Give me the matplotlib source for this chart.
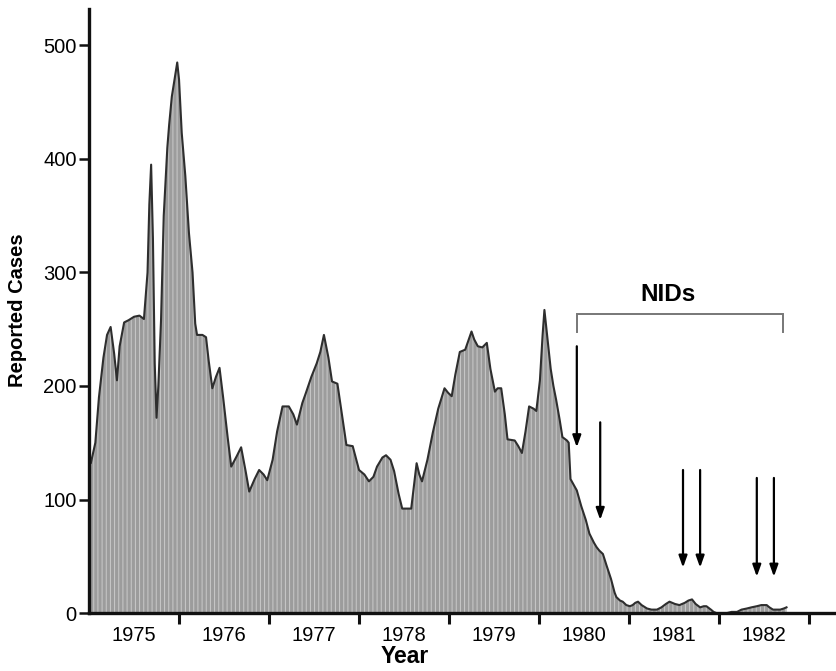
import matplotlib
matplotlib.use("Agg")
import matplotlib.pyplot as plt

plt.rcParams['hatch.linewidth'] = 0.7

# ---- data ----
years = [1975.00, 1975.02, 1975.07, 1975.11, 1975.16, 1975.20, 1975.24, 1975.28, 1975.31, 1975.34,
         1975.39, 1975.44, 1975.50, 1975.56, 1975.61, 1975.65, 1975.67, 1975.69, 1975.71, 1975.73,
         1975.75, 1975.77, 1975.80, 1975.83, 1975.87, 1975.89, 1975.92, 1975.96, 1975.98, 1976.00,
         1976.03, 1976.07, 1976.11, 1976.15, 1976.18, 1976.20, 1976.26, 1976.30, 1976.33, 1976.37,
         1976.41, 1976.45, 1976.49, 1976.54, 1976.58, 1976.64, 1976.69, 1976.74, 1976.78, 1976.84,
         1976.89, 1976.94, 1976.98, 1977.04, 1977.09, 1977.15, 1977.22, 1977.27, 1977.31, 1977.37,
         1977.41, 1977.47, 1977.53, 1977.57, 1977.61, 1977.66, 1977.70, 1977.76, 1977.81, 1977.86,
         1977.93, 1977.97, 1978.00, 1978.06, 1978.11, 1978.16, 1978.20, 1978.26, 1978.30, 1978.35,
         1978.39, 1978.44, 1978.48, 1978.58, 1978.64, 1978.67, 1978.70, 1978.76, 1978.82, 1978.88,
         1978.95, 1978.99, 1979.03, 1979.07, 1979.12, 1979.18, 1979.25, 1979.28, 1979.32, 1979.37,
         1979.42, 1979.46, 1979.51, 1979.54, 1979.58, 1979.62, 1979.65, 1979.73, 1979.77, 1979.81,
         1979.85, 1979.89, 1979.94, 1979.97, 1980.01, 1980.04, 1980.06, 1980.09, 1980.13, 1980.16,
         1980.19, 1980.23, 1980.26, 1980.31, 1980.33, 1980.35, 1980.42, 1980.47, 1980.52, 1980.56,
         1980.61, 1980.64, 1980.67, 1980.71, 1980.75, 1980.80, 1980.84, 1980.86, 1980.90, 1980.93,
         1980.97, 1981.01, 1981.04, 1981.07, 1981.10, 1981.14, 1981.20, 1981.25, 1981.31, 1981.36,
         1981.41, 1981.45, 1981.51, 1981.56, 1981.62, 1981.66, 1981.70, 1981.74, 1981.79, 1981.83,
         1981.86, 1981.91, 1981.94, 1981.97, 1982.03, 1982.09, 1982.14, 1982.20, 1982.25, 1982.31,
         1982.36, 1982.42, 1982.47, 1982.53, 1982.56, 1982.60, 1982.64, 1982.68, 1982.72, 1982.75]
cases = [133, 132, 150, 190, 225, 245, 252, 228, 205, 235,
         256, 258, 261, 262, 259, 300, 360, 395, 330, 220,
         172, 200, 258, 350, 410, 430, 455, 475, 485, 470,
         423, 385, 335, 300, 255, 245, 245, 243, 222, 198,
         208, 216, 190, 155, 129, 138, 146, 125, 107, 118,
         126, 122, 117, 135, 160, 182, 182, 175, 166, 185,
         194, 208, 220, 230, 245, 225, 204, 202, 175, 148,
         147, 135, 126, 122, 116, 120, 129, 137, 139, 135,
         125, 105, 92, 92, 132, 122, 116, 135, 159, 180,
         198, 194, 191, 210, 230, 232, 248, 241, 235, 234,
         238, 215, 195, 198, 198, 175, 153, 152, 147, 141,
         160, 182, 180, 178, 205, 245, 267, 245, 215, 200,
         188, 170, 155, 152, 150, 118, 108, 94, 82, 70,
         62, 58, 55, 52, 42, 30, 18, 14, 11, 10,
         7, 6, 7, 9, 10, 7, 4, 3, 3, 5,
         8, 10, 8, 7, 9, 11, 12, 8, 5, 6,
         6, 3, 1, 0, 0, 0, 1, 1, 3, 4,
         5, 6, 7, 7, 5, 3, 3, 3, 4, 5]

year_labels = ["1975", "1976", "1977", "1978", "1979", "1980", "1981", "1982"]
year_label_pos = [1975.5, 1976.5, 1977.5, 1978.5, 1979.5, 1980.5, 1981.5, 1982.5]
year_ticks = [1976, 1977, 1978, 1979, 1980, 1981, 1982, 1983]
y_ticks = [0, 100, 200, 300, 400, 500]

# NID arrows: x position, start value, end value
arrow_x = [1980.42, 1980.68, 1981.60, 1981.79, 1982.42, 1982.61]
arrow_top = [235, 168, 126, 126, 119, 119]
arrow_tip = [146, 82, 40, 40, 32, 32]
bracket_x = [1980.42, 1982.71]
bracket_top = 263
bracket_leg = 248

# ---- figure ----
fig = plt.figure(figsize=(8.36, 6.71), dpi=100)
ax = fig.add_axes([0.1065, 0.0864, 0.8935, 0.9])

ax.fill_between(years, cases, 0, facecolor='#9c9c9c', edgecolor='#cacaca',
                hatch='||||', linewidth=0, zorder=1)
ax.plot(years, cases, color='#2e2e2e', lw=1.5, zorder=2)

ax.set_xlim(1975.0, 1983.3)
ax.set_ylim(0, 532)

for s in ['top', 'right']:
    ax.spines[s].set_visible(False)
for s in ['left', 'bottom']:
    ax.spines[s].set_linewidth(2.4)
    ax.spines[s].set_color('#111111')

fs_tick = 14.5
ax.set_yticks(y_ticks)
ax.set_yticklabels([str(v) for v in y_ticks], fontsize=fs_tick, family='Liberation Sans')
ax.tick_params(axis='y', length=7, width=1.8, pad=2, color='#111111')

ax.set_xticks(year_ticks)
ax.set_xticklabels([])
ax.tick_params(axis='x', which='major', length=8, width=2.2, color='#111111')
ax.set_xticks(year_label_pos, minor=True)
ax.set_xticklabels(year_labels, minor=True, fontsize=fs_tick, family='Liberation Sans')
ax.tick_params(axis='x', which='minor', length=0, pad=9)

# arrows
for x, y0, y1 in zip(arrow_x, arrow_top, arrow_tip):
    ax.annotate('', xy=(x, y1), xytext=(x, y0),
                arrowprops=dict(arrowstyle='-|>,head_length=0.7,head_width=0.25',
                                color='black', lw=1.6, shrinkA=0, shrinkB=0),
                zorder=5)

# bracket
ax.plot([bracket_x[0], bracket_x[0], bracket_x[1], bracket_x[1]],
        [bracket_leg, bracket_top, bracket_top, bracket_leg],
        color='#777777', lw=1.4, solid_joinstyle='miter', zorder=5)
ax.text(1981.43, 281, 'NIDs', ha='center', va='center', fontsize=17.5,
        fontweight='bold', family='Liberation Sans')

# axis labels
fig.text(0.021, 0.538, 'Reported Cases', rotation=90, ha='center', va='center',
         fontsize=14.5, fontweight='bold', family='Liberation Sans')
fig.text(0.484, 0.012, 'Year', ha='center', va='baseline', fontsize=16.5,
         fontweight='bold', family='Liberation Sans')

fig.savefig('out.png', dpi=100)
